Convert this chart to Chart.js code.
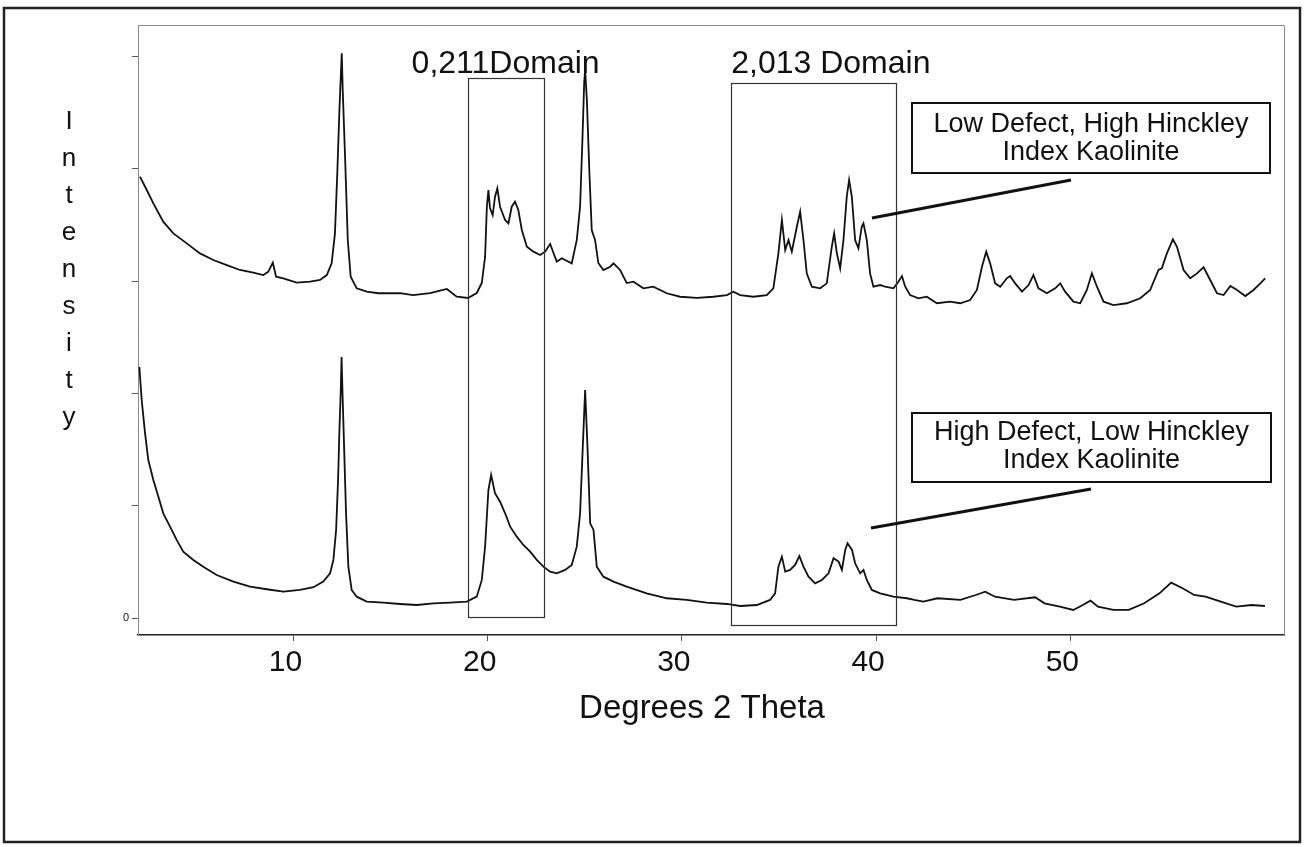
<!DOCTYPE html>
<html>
<head>
<meta charset="utf-8">
<script src="https://cdn.jsdelivr.net/npm/chart.js@4.4.1/dist/chart.umd.min.js"></script>
<style>
  html, body { margin: 0; padding: 0; background: #fff; }
  canvas { display: block; }
</style>
</head>
<body>
<canvas id="xrd" width="1305" height="847"></canvas>
<script>
// Low defect (top trace): 2-theta and intensity
const upperTheta = [2.10,2.45,2.79,3.30,3.82,4.51,5.19,5.88,6.57,7.25,7.94,8.45,8.71,8.94,9.11,9.48,10.17,10.86,11.37,11.72,11.97,12.14,12.26,12.37,12.49,12.54,12.66,12.80,12.95,13.26,13.78,14.37,15.49,16.16,17.04,17.90,18.41,18.99,19.44,19.70,19.87,19.96,20.04,20.12,20.26,20.38,20.50,20.64,20.90,21.07,21.24,21.41,21.58,21.76,22.02,22.36,22.70,22.96,23.22,23.39,23.56,23.82,23.99,24.33,24.59,24.76,24.88,24.97,25.02,25.11,25.24,25.36,25.53,25.70,25.96,26.31,26.48,26.82,27.16,27.51,28.02,28.53,29.22,29.91,30.77,31.62,32.32,32.65,33.00,33.68,34.37,34.71,34.97,35.15,35.32,35.49,35.66,35.92,36.09,36.26,36.43,36.69,37.12,37.46,37.72,37.84,37.98,38.15,38.32,38.49,38.61,38.75,38.92,39.09,39.26,39.35,39.52,39.69,39.86,40.21,40.47,40.89,41.15,41.33,41.50,41.75,42.18,42.61,43.13,43.81,44.33,44.84,45.19,45.45,45.67,45.87,46.13,46.39,46.73,46.90,47.16,47.51,47.85,48.10,48.36,48.79,49.22,49.48,49.73,50.16,50.51,50.85,51.11,51.37,51.71,52.22,52.91,53.60,54.11,54.54,54.71,54.97,55.28,55.49,55.83,56.17,56.52,56.86,57.20,57.55,57.89,58.24,58.58,59.01,59.43,59.78,60.03];
const upperCounts = [3929,3811,3692,3529,3425,3336,3247,3188,3143,3099,3075,3054,3084,3164,3039,3025,2986,2995,3010,3054,3158,3425,3959,4522,5027,4700,4107,3366,3039,2936,2906,2892,2894,2876,2894,2930,2861,2850,2894,2983,3217,3662,3811,3650,3588,3751,3826,3662,3544,3514,3662,3706,3633,3455,3306,3262,3232,3262,3330,3250,3173,3203,3188,3158,3366,3662,4255,4760,4878,4611,3962,3455,3366,3161,3099,3128,3158,3099,2983,2995,2936,2950,2892,2861,2850,2861,2876,2906,2876,2861,2876,2936,3247,3544,3277,3366,3262,3484,3618,3366,3069,2950,2936,2980,3306,3425,3247,3114,3366,3751,3900,3751,3366,3292,3484,3514,3366,3069,2950,2965,2950,2936,2995,3045,2950,2876,2847,2861,2803,2817,2803,2832,2921,3128,3262,3158,2980,2950,3025,3045,2980,2906,2965,3054,2936,2892,2936,2980,2906,2817,2803,2921,3069,2950,2817,2787,2803,2847,2921,3099,3114,3247,3372,3306,3099,3025,3069,3123,3010,2892,2876,2956,2921,2867,2921,2980,3025];

// High defect (bottom trace)
const lowerTheta = [2.07,2.19,2.36,2.53,2.79,3.05,3.30,3.65,3.99,4.33,4.85,5.36,6.05,6.91,7.77,8.63,9.48,10.34,11.03,11.54,11.89,12.06,12.20,12.30,12.37,12.44,12.48,12.54,12.61,12.71,12.83,13.00,13.26,13.78,14.63,15.49,16.35,17.21,18.07,18.93,19.44,19.70,19.87,20.04,20.18,20.38,20.64,20.90,21.16,21.50,21.84,22.19,22.53,22.87,23.22,23.56,23.99,24.33,24.59,24.76,24.90,25.02,25.14,25.28,25.45,25.62,25.96,26.48,27.16,28.19,29.22,30.25,31.28,32.32,33.00,33.86,34.54,34.80,34.97,35.15,35.32,35.57,35.83,36.05,36.26,36.52,36.86,37.21,37.55,37.81,38.07,38.24,38.41,38.53,38.76,38.92,39.18,39.35,39.52,39.78,40.21,40.89,41.58,41.97,42.43,43.16,44.34,45.13,45.62,46.12,47.10,48.19,48.67,49.46,50.15,50.64,51.04,51.42,52.22,53.01,53.80,54.59,55.19,55.78,56.37,56.96,57.75,58.54,59.33,60.02];
const lowerCounts = [2236,1942,1649,1408,1230,1082,934,815,697,593,519,459,385,326,281,258,237,252,276,326,400,519,786,1230,1675,2031,2325,1942,1527,937,459,252,192,148,139,127,118,133,139,148,192,341,637,1141,1275,1112,1037,934,815,726,652,593,519,459,415,400,430,474,637,934,1527,2031,1527,845,786,459,370,326,281,222,178,163,139,127,109,118,163,222,459,548,415,430,474,554,459,370,311,341,400,534,504,430,608,667,608,489,400,430,341,252,222,192,178,163,148,178,163,207,237,192,163,187,133,103,74,118,157,103,74,74,133,222,317,267,207,192,148,103,118,109];

// axis ticks
const xTicks = [10, 20, 30, 40, 50];
const yTicks = [0, 1000, 2000, 3000, 4000, 5000];

// reflection domains (boxes)
const domainNames = ['0,211Domain', '2,013 Domain'];
const domainFrom = [18.97, 32.54];
const domainTo = [22.88, 41.06];
const domainTop = [4807, 4760];
const domainBottom = [9, -60];

const sampleNames = [
  ['Low Defect, High Hinckley', 'Index Kaolinite'],
  ['High Defect, Low Hinckley', 'Index Kaolinite']
];

const FONT = "'Liberation Sans', Arial, sans-serif";
const ink = '#111';

function pts(xs, ys) {
  return xs.map((x, i) => ({ x, y: ys[i] }));
}

const decor = {
  id: 'decor',
  afterDraw(chart) {
    const { ctx, chartArea: a, scales: { x, y } } = chart;
    ctx.save();

    // outer frame
    ctx.strokeStyle = '#222';
    ctx.lineWidth = 2.5;
    ctx.strokeRect(4, 8, 1296, 834);

    // top + right edge of plot box
    ctx.strokeStyle = '#888';
    ctx.lineWidth = 1;
    ctx.beginPath();
    ctx.moveTo(a.left, a.top + 0.5);
    ctx.lineTo(a.right + 0.5, a.top + 0.5);
    ctx.lineTo(a.right + 0.5, a.bottom);
    ctx.stroke();

    // domain boxes
    ctx.strokeStyle = '#333';
    ctx.lineWidth = 1.2;
    ctx.fillStyle = ink;
    ctx.font = '32px ' + FONT;
    ctx.textBaseline = 'alphabetic';
    domainNames.forEach((name, i) => {
      const l = x.getPixelForValue(domainFrom[i]);
      const r = x.getPixelForValue(domainTo[i]);
      const t = y.getPixelForValue(domainTop[i]);
      const b = y.getPixelForValue(domainBottom[i]);
      ctx.strokeRect(Math.round(l) + 0.5, Math.round(t) + 0.5, Math.round(r - l), Math.round(b - t));
      if (i === 0) {
        ctx.textAlign = 'center';
        ctx.fillText(name, (l + r) / 2, t - 5);
      } else {
        ctx.textAlign = 'left';
        ctx.fillText(name, l, t - 10);
      }
    });

    // sample label boxes + leader lines
    const boxes = [
      { l: 912, t: 103, w: 358, h: 70, line: [872, 218, 1071, 180], base: [132, 160] },
      { l: 912, t: 413, w: 359, h: 69, line: [871, 528, 1091, 489], base: [440, 468] }
    ];
    ctx.font = '27px ' + FONT;
    ctx.textAlign = 'center';
    boxes.forEach((bx, i) => {
      ctx.strokeStyle = '#111';
      ctx.lineWidth = 2;
      ctx.strokeRect(bx.l, bx.t, bx.w, bx.h);
      ctx.fillText(sampleNames[i][0], bx.l + bx.w / 2, bx.base[0]);
      ctx.fillText(sampleNames[i][1], bx.l + bx.w / 2, bx.base[1]);
      ctx.lineWidth = 3;
      ctx.beginPath();
      ctx.moveTo(bx.line[0], bx.line[1]);
      ctx.lineTo(bx.line[2], bx.line[3]);
      ctx.stroke();
    });

    // y title, letters stacked
    ctx.font = '26px ' + FONT;
    ctx.textAlign = 'center';
    'Intensity'.split('').forEach((ch, i) => {
      ctx.fillText(ch, 69, 129 + i * 37);
    });

    // x title
    ctx.font = '33px ' + FONT;
    ctx.fillText('Degrees 2 Theta', 702, 718);

    ctx.restore();
  }
};

new Chart(document.getElementById('xrd'), {
  type: 'line',
  data: {
    datasets: [
      { label: sampleNames[0].join(' '), data: pts(upperTheta, upperCounts) },
      { label: sampleNames[1].join(' '), data: pts(lowerTheta, lowerCounts) }
    ].map(d => Object.assign(d, {
      borderColor: ink,
      borderWidth: 1.8,
      pointRadius: 0,
      tension: 0,
      fill: false
    }))
  },
  options: {
    responsive: false,
    animation: false,
    layout: { padding: { top: 25, right: 21, left: 0, bottom: 0 } },
    plugins: {
      legend: { display: false },
      tooltip: { enabled: false }
    },
    scales: {
      x: {
        type: 'linear',
        min: 2,
        max: 61,
        afterBuildTicks: s => { s.ticks = xTicks.map(v => ({ value: v })); },
        afterFit: s => { s.height = 212; },
        grid: { display: true, drawOnChartArea: false, drawTicks: true, tickLength: 6, color: '#555' },
        border: { display: true, color: '#222', width: 1.5 },
        ticks: {
          color: ink,
          font: { family: FONT, size: 30 },
          padding: 4,
          labelOffset: -8,
          maxRotation: 0,
          callback: v => String(v)
        }
      },
      y: {
        type: 'linear',
        min: -149,
        max: 5279,
        afterBuildTicks: s => { s.ticks = yTicks.map(v => ({ value: v })); },
        afterFit: s => { s.width = 138; },
        grid: { display: true, drawOnChartArea: false, drawTicks: true, tickLength: 6, color: '#555' },
        border: { display: true, color: '#888', width: 1 },
        ticks: {
          color: ink,
          font: { family: FONT, size: 11 },
          padding: 3,
          callback: v => (v === 0 ? '0' : '')
        }
      }
    }
  },
  plugins: [decor]
});
</script>
</body>
</html>
